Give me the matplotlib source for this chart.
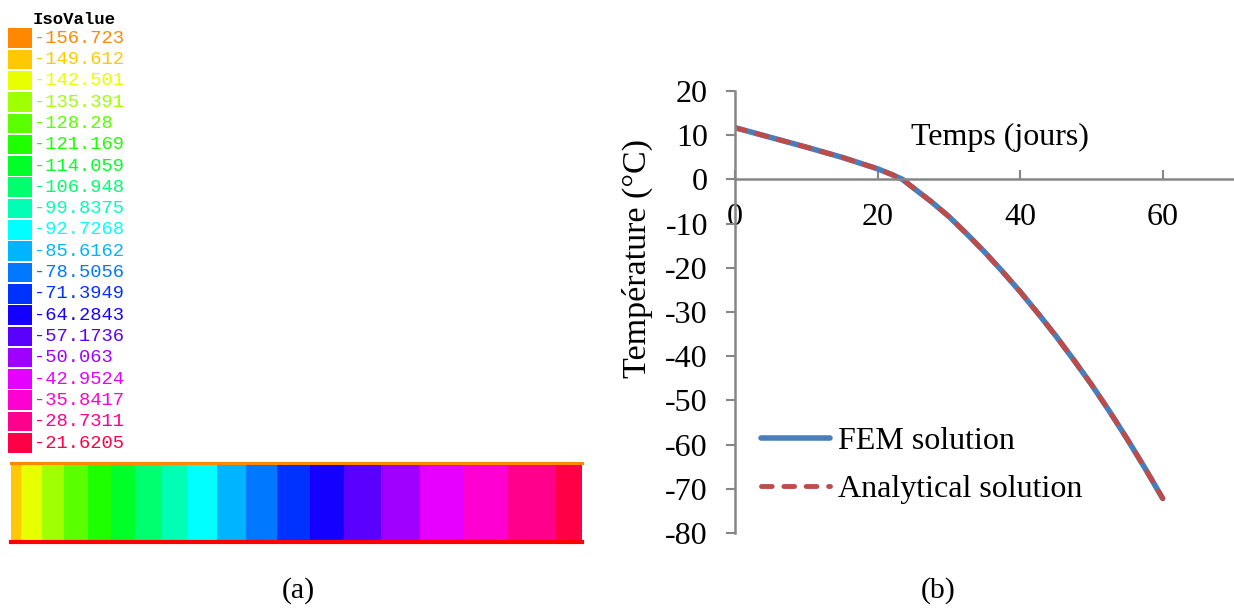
import matplotlib.pyplot as plt
from matplotlib.patches import Rectangle

plt.rcParams.update(
    {
        "font.family": "Liberation Serif",
        "axes.unicode_minus": False,
    }
)

# IsoValue legend (top to bottom)
iso_labels = [
    "156.723", "149.612", "142.501", "135.391", "128.28",
    "121.169", "114.059", "106.948", "99.8375", "92.7268",
    "85.6162", "78.5056", "71.3949", "64.2843", "57.1736",
    "50.063", "42.9524", "35.8417", "28.7311", "21.6205",
]
iso_colors = [
    "#FF8800", "#FFC800", "#E8FF00", "#A0FF00", "#5AFF00",
    "#1EFF00", "#00FF28", "#00FF6E", "#00FFB4", "#00FFFF",
    "#00B4FF", "#0078FF", "#0032FF", "#1400FF", "#5A00FF",
    "#A000FF", "#E600FF", "#FF00D2", "#FF008C", "#FF0046",
]
# colour bands along the bar (fraction of its length)
bar_edges = [0, 0.018, 0.055, 0.093, 0.134, 0.175, 0.218, 0.264, 0.309, 0.360,
             0.411, 0.465, 0.523, 0.583, 0.648, 0.717, 0.791, 0.870, 0.955, 1.0]
bar_colors = iso_colors[1:]

# temperature curve
days = [0, 5, 10, 15, 20, 22, 23.5, 25, 27.5, 30, 32.5, 35, 37.5, 40,
        42.5, 45, 47.5, 50, 52.5, 55, 57.5, 60]
fem_temp = [11.7, 9.5, 7.3, 5.0, 2.4, 1.1, 0.0, -1.9, -5.0, -8.4, -12.3, -16.4, -20.8, -25.4,
            -30.3, -35.4, -40.8, -46.4, -52.4, -58.7, -65.3, -72.2]
analytical_temp = [11.7, 9.5, 7.3, 5.0, 2.4, 1.1, 0.0, -1.9, -5.0, -8.4, -12.3, -16.4, -20.8, -25.4,
                   -30.3, -35.4, -40.8, -46.4, -52.4, -58.7, -65.3, -72.2]

W, H = 1234, 608
fig = plt.figure(figsize=(W / 100, H / 100), dpi=100)

# ---- (a) left panel, drawn in pixel units
axl = fig.add_axes([0, 0, 0.5, 1])
axl.set_xlim(0, W / 2)
axl.set_ylim(H, 0)
axl.axis("off")
axl.text(33, 19, "IsoValue", family="Liberation Mono", fontsize=12.5,
         fontweight="bold", va="center")
for i, (lab, col) in enumerate(zip(iso_labels, iso_colors)):
    top = 28.3 + i * 21.3
    axl.add_patch(Rectangle((8.3, top), 23.4, 19.6, facecolor=col, edgecolor="none"))
    axl.text(34, top + 10, "-" + lab, color=col, family="Liberation Mono",
             fontsize=13.5, va="center")

axb = fig.add_axes([11 / W, 1 - 542 / H, 571 / W, 79 / H])
for i, col in enumerate(bar_colors):
    axb.axvspan(bar_edges[i], bar_edges[i + 1], color=col, lw=0)
axb.set_xlim(0, 1)
axb.set_ylim(0, 1)
axb.axis("off")
axb.axhline(1, color="#FF8800", lw=2.2, clip_on=False)
axb.axhline(0, color="#FF0000", lw=3, clip_on=False)

# ---- (b) right panel
gray = "#868686"
ax = fig.add_axes([735 / W, 1 - 533 / H, (W - 735) / W, 442 / H])
ax.plot(days, fem_temp, color="#4A7EBB", lw=4.0, solid_capstyle="round",
        label="FEM solution")
ax.plot(days, analytical_temp, color="#BE4B48", lw=3.5, ls=(0, (2.2, 2.4)),
        dash_capstyle="round", label="Analytical solution")
ax.set_xlim(0, 70)
ax.set_ylim(-80, 20)
ax.set_xticks([0, 20, 40, 60])
ax.set_yticks(range(-80, 21, 10))
ax.spines["bottom"].set_position(("data", 0))
for s in ["top", "right"]:
    ax.spines[s].set_visible(False)
for s in ["left", "bottom"]:
    ax.spines[s].set_color(gray)
    ax.spines[s].set_linewidth(1.8)
ax.tick_params(axis="x", direction="in", length=6.5, width=1.5, pad=17,
               color=gray, labelsize=23)
ax.tick_params(axis="y", direction="out", length=6.5, width=1.5, pad=13,
               color=gray, labelsize=23)

ax.text(-0.195, 0.622, "Température (°C)", transform=ax.transAxes,
        rotation=90, ha="center", va="center", fontsize=24.5)
ax.text(37.2, 9.5, "Temps (jours)", ha="center", va="center", fontsize=23)

ax.legend(loc="upper left", bbox_to_anchor=(26 / 499, 0.241), frameon=False,
          fontsize=23, handlelength=2.15, handletextpad=0.25, labelspacing=0.6,
          borderpad=0, borderaxespad=0)

fig.text(298 / W, 1 - 591 / H, "(a)", ha="center", va="center", fontsize=21.5)
fig.text(938 / W, 1 - 591 / H, "(b)", ha="center", va="center", fontsize=21.5)

fig.savefig("out.png", dpi=100)
